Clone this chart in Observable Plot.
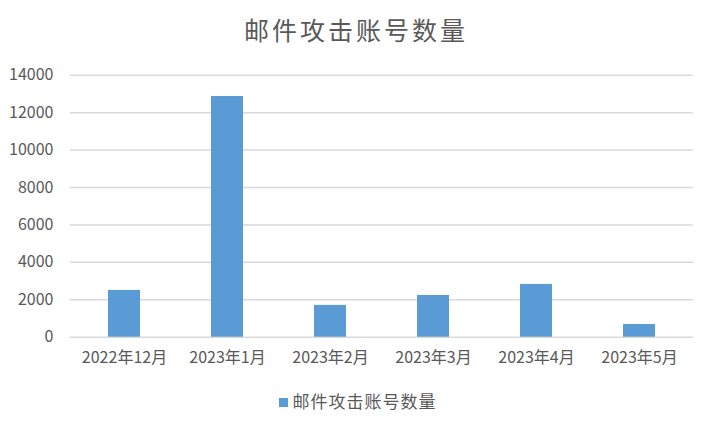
<!DOCTYPE html>
<html>
<head>
<meta charset="utf-8">
<script src="https://cdn.jsdelivr.net/npm/d3@7"></script>
<script src="https://cdn.jsdelivr.net/npm/@observablehq/plot@0.6"></script>
<style>
  html, body { margin: 0; padding: 0; background: #fff; }
  body { width: 709px; height: 424px; overflow: hidden; font-family: "Noto Sans CJK SC", "Noto Sans", sans-serif; color: #595959; }
  #title { height: 58px; line-height: 58px; text-align: center; font-size: 25px; letter-spacing: 3px; padding-left: 3px; }
  #chart svg { display: block; }
  #legend { height: 40px; line-height: 40px; text-align: center; font-size: 17px; letter-spacing: 1px; padding-left: 6px; }
  #legend .sw { display: inline-block; width: 9px; height: 9px; background: #5B9BD5; margin-right: 5px; vertical-align: middle; position: relative; top: -1px; }
</style>
</head>
<body>
<div id="title">邮件攻击账号数量</div>
<div id="chart"></div>
<div id="legend"><span class="sw"></span>邮件攻击账号数量</div>
<script>
const months = ["2022年12月", "2023年1月", "2023年2月", "2023年3月", "2023年4月", "2023年5月"];
const counts = [2500, 12860, 1700, 2230, 2820, 680];
const yTicks = [0, 2000, 4000, 6000, 8000, 10000, 12000, 14000];
const seriesName = "邮件攻击账号数量";

const data = months.map((m, i) => ({month: m, value: counts[i]}));

const chart = Plot.plot({
  width: 709,
  height: 323,
  marginTop: 16.7,
  marginBottom: 44.3,
  marginLeft: 70,
  marginRight: 16.3,
  style: {fontFamily: '"Noto Sans CJK SC", "Noto Sans", sans-serif', fontSize: "16px", color: "#595959", background: "#fff"},
  x: {domain: months, paddingInner: 0.69, paddingOuter: 0.345, label: null},
  y: {domain: [0, 14000], label: null},
  marks: [
    Plot.ruleY(yTicks, {stroke: "#D9D9D9", strokeWidth: 1.5}),
    Plot.barY(data, {x: "month", y: "value", fill: "#5B9BD5", title: d => `${seriesName}: ${d.value}`}),
    Plot.axisX({tickSize: 0, tickPadding: 14, label: null, fill: "#595959"}),
    Plot.axisY({ticks: yTicks, tickFormat: d => String(d), tickSize: 0, tickPadding: 17, label: null, fill: "#595959"})
  ]
});
document.getElementById("chart").appendChild(chart);
</script>
</body>
</html>
